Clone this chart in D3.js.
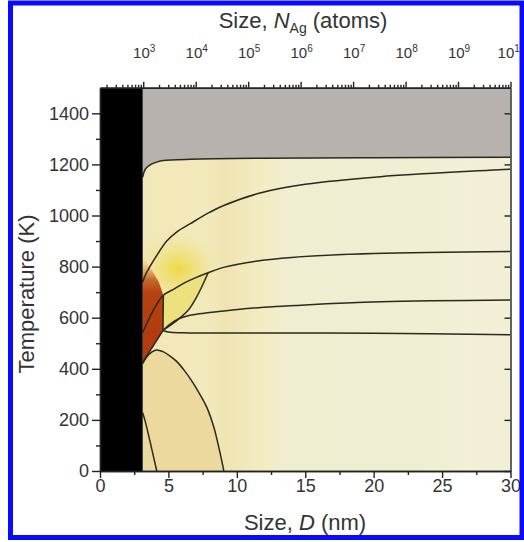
<!DOCTYPE html>
<html>
<head>
	<meta charset="UTF-8" />
	<title>Ag nanoparticle size - temperature diagram</title>
	<script src="https://d3js.org/d3.v7.min.js"></script>
	<style>
		body { margin: 0; background: #fff; }
		svg text { font-family: Arial, "Liberation Sans", sans-serif; fill: #333; }
	</style>
</head>
<body>
	<svg id="chart" width="524" height="542"></svg>

	<script type="text/javascript">
	// ---- data: D in nm, T in K ----
	const solidEdge = 3.12   // black band, D below this

	const xTicks = [0, 5, 10, 15, 20, 25, 30]
	const xMinor = [2.5, 7.5, 12.5, 17.5, 22.5, 27.5]
	const yTicks = [0, 200, 400, 600, 800, 1000, 1200, 1400]
	const yMinor = [100, 300, 500, 700, 900, 1100, 1300]
	const nExp = [3, 4, 5, 6, 7, 8, 9, 10]   // top axis, 10^n atoms

	// boundary curves
	const liquidus = [[3.12,1150],[3.3,1180],[3.66,1198],[4.2,1210],[4.63,1215],[6.6,1220],[11.7,1224],[20,1226],[30,1228]]
	const c1180 = [[3.12,740],[3.3,765],[3.54,790],[4.2,848],[4.88,900],[5.6,935],[6.6,968],[8,1012],[9,1038],[11.7,1088],[15,1122],[20.5,1152],[30,1181]]
	const c860 = [[3.12,542],[3.6,598],[4.1,648],[4.63,688],[5.4,712],[6.2,737],[7.0,757],[7.9,776],[9.1,798],[11.5,822],[14,836],[20,851],[30,859]]
	const c670 = [[4.6,550],[5.2,578],[5.8,597],[6.5,609],[8,620],[9.2,627],[11,637],[15,650],[20.5,662],[30,669]]
	const c540 = [[4.6,550],[5,544],[6,541],[10,540],[20,539],[30,533]]
	const yellowEdge = [[4.6,550],[5.5,584],[6.46,630],[7.0,675],[7.44,721],[7.9,776]]
	const redLower = [[3.12,425],[4.6,550]]
	const redRight = [[4.6,550],[4.63,688]]
	const dome = [[3.12,420],[3.4,445],[3.8,466],[4.15,474],[4.6,467],[5.1,451],[5.6,429],[6.2,391],[6.8,345],[7.3,300],[7.8,250],[8.3,175],[8.6,112],[8.85,52],[9.05,0]]
	const lowCurve = [[3.12,228],[3.3,195],[3.55,140],[3.8,82],[4.0,35],[4.15,0]]
	const redTopFade = [[4.63,688],[4.3,740],[3.8,785],[3.12,840]]
	const glowCenter = [5.7, 790]

	// heat colours of the background, by D
	const bgStops = [[3.12,"#f2e7b6"],[8,"#f2e9bc"],[9.2,"#efe3b0"],[10.5,"#f1e8bc"],[12,"#f3ecc3"],[13.8,"#f0eed1"],[25,"#f0eed3"],[26.5,"#f3f0d8"],[30,"#f3efd5"]]
	const redStops = [[540,"#b23c10",1],[700,"#b5420f",1],[750,"#c66426",0.95],[800,"#dea65a",0.55],[840,"#efd98a",0]]

	const gray = "#b7b2ad"
	const tan = "#ebd99d"
	const yellow = "#ece17e"
	const ink = "#2a291f"

	// ---- scales ----
	const svg = d3.select("#chart")
	const x = d3.scaleLinear().domain([0, 30]).range([100, 510.5])
	const y = d3.scaleLinear().domain([0, 1500]).range([471, 87.75])
	const xTop = d3.scaleLog().domain([150, 1e10]).range([100, 510.5])

	const defs = svg.append("defs")
	defs.append("clipPath").attr("id", "plotClip")
		.append("rect").attr("x", x(0)).attr("y", y(1500))
		.attr("width", x(30) - x(0)).attr("height", y(0) - y(1500))

	const bg = defs.append("linearGradient").attr("id", "bgGrad")
		.attr("gradientUnits", "userSpaceOnUse")
		.attr("x1", x(solidEdge)).attr("x2", x(30)).attr("y1", 0).attr("y2", 0)
	bg.selectAll("stop").data(bgStops).join("stop")
		.attr("offset", d => (d[0] - solidEdge) / (30 - solidEdge))
		.attr("stop-color", d => d[1])

	const rg = defs.append("linearGradient").attr("id", "redGrad")
		.attr("gradientUnits", "userSpaceOnUse")
		.attr("x1", 0).attr("x2", 0).attr("y1", y(540)).attr("y2", y(840))
	rg.selectAll("stop").data(redStops).join("stop")
		.attr("offset", d => (d[0] - 540) / (840 - 540))
		.attr("stop-color", d => d[1]).attr("stop-opacity", d => d[2])

	const glow = defs.append("radialGradient").attr("id", "glowGrad")
	glow.append("stop").attr("offset", 0).attr("stop-color", "#ecd834").attr("stop-opacity", 0.9)
	glow.append("stop").attr("offset", 0.45).attr("stop-color", "#eede66").attr("stop-opacity", 0.55)
	glow.append("stop").attr("offset", 1).attr("stop-color", "#f2e9a8").attr("stop-opacity", 0)

	const plot = svg.append("g").attr("clip-path", "url(#plotClip)")
	const poly = d3.line().x(d => x(d[0])).y(d => y(d[1]))
	const smooth = d3.line().x(d => x(d[0])).y(d => y(d[1])).curve(d3.curveCatmullRom)

	// background heat map
	plot.append("rect").attr("x", x(solidEdge)).attr("y", y(1500))
		.attr("width", x(30) - x(solidEdge)).attr("height", y(0) - y(1500))
		.attr("fill", "url(#bgGrad)")

	// tan low temperature dome
	plot.append("path").attr("d", smooth(dome) + "L" + x(solidEdge) + "," + y(0) + "Z").attr("fill", tan)

	// glow around the pocket
	plot.append("ellipse").attr("cx", x(glowCenter[0])).attr("cy", y(glowCenter[1]))
		.attr("rx", 46).attr("ry", 40).attr("fill", "url(#glowGrad)")

	// yellow pocket
	const c860part = c860.filter(d => d[0] >= 4.63 && d[0] <= 7.9)
	const yellowPoly = [yellowEdge[0], ...c860part, ...yellowEdge.slice().reverse()]
	plot.append("path").attr("d", smooth(yellowPoly) + "Z").attr("fill", yellow)

	// red-brown region on the solid edge
	const redPoly = [redLower[0], redLower[1], ...redTopFade]
	plot.append("path").attr("d", poly(redPoly) + "Z").attr("fill", "url(#redGrad)")

	// gray liquid region
	plot.append("path").attr("d", smooth(liquidus) + "L" + x(30) + "," + y(1500) + "L" + x(solidEdge) + "," + y(1500) + "Z")
		.attr("fill", gray)

	// boundary lines
	const curves = [liquidus, c1180, c860, c670, c540, yellowEdge, dome, lowCurve]
	plot.selectAll("path.bound").data(curves).join("path").attr("class", "bound")
		.attr("d", smooth).attr("fill", "none")
		.attr("stroke", ink).attr("stroke-width", 1.5)
	plot.selectAll("path.seg").data([redLower, redRight]).join("path").attr("class", "seg")
		.attr("d", poly).attr("fill", "none")
		.attr("stroke", ink).attr("stroke-width", 1.5)

	// black band
	plot.append("rect").attr("x", x(0)).attr("y", y(1500))
		.attr("width", x(solidEdge) - x(0)).attr("height", y(0) - y(1500)).attr("fill", "#000")

	// ---- axes ----
	function styleAxis(g) {
		g.selectAll("path.domain").attr("stroke", "#222").attr("stroke-width", 1.4)
		g.selectAll(".tick line").attr("stroke", "#222").attr("stroke-width", 1.4)
		g.selectAll(".tick text").attr("font-size", 18).attr("fill", "#333")
			.attr("font-family", 'Arial, "Liberation Sans", sans-serif')
	}

	svg.append("g").attr("transform", `translate(0,${y(0)})`)
		.call(d3.axisBottom(x).tickValues(xTicks).tickSize(7).tickSizeOuter(0).tickPadding(1).tickFormat(d3.format("d")))
		.call(styleAxis)
	svg.append("g").attr("transform", `translate(0,${y(0)})`)
		.call(d3.axisBottom(x).tickValues(xMinor).tickSize(4).tickSizeOuter(0).tickFormat(""))
		.call(styleAxis)

	svg.append("g").attr("transform", `translate(${x(0)},0)`)
		.call(d3.axisLeft(y).tickValues(yTicks).tickSize(8).tickSizeOuter(0).tickPadding(3).tickFormat(d3.format("d")))
		.call(styleAxis)
	svg.append("g").attr("transform", `translate(${x(0)},0)`)
		.call(d3.axisLeft(y).tickValues(yMinor).tickSize(4).tickSizeOuter(0).tickFormat(""))
		.call(styleAxis)

	// right side, ticks pointing in
	svg.append("g").attr("transform", `translate(${x(30)},0)`)
		.call(d3.axisLeft(y).tickValues(yTicks).tickSize(6).tickSizeOuter(0).tickFormat(""))
		.call(styleAxis)

	// top: number of atoms, log
	const nMinor = []
	for (let e = 2; e < 10; e++) for (let m = 2; m <= 9; m++) {
		const v = m * Math.pow(10, e)
		if (v >= 150 && v <= 1e10) nMinor.push(v)
	}
	const nTicks = nExp.map(e => Math.pow(10, e))
	svg.append("g").attr("transform", `translate(0,${y(1500)})`)
		.call(d3.axisTop(xTop).tickValues(nTicks).tickSize(6).tickSizeOuter(0).tickFormat(""))
		.call(styleAxis)
	svg.append("g").attr("transform", `translate(0,${y(1500)})`)
		.call(d3.axisTop(xTop).tickValues(nMinor).tickSize(3).tickSizeOuter(0).tickFormat(""))
		.call(styleAxis)

	const topLab = svg.append("g").selectAll("text").data(nExp).join("text")
		.attr("x", d => xTop(Math.pow(10, d)) + 1)
		.attr("y", 58).attr("text-anchor", "middle")
	topLab.append("tspan").attr("font-size", 15).text("10")
	topLab.append("tspan").attr("font-size", 10).attr("dy", -6).text(d => d)

	// titles
	const bt = svg.append("text").attr("x", 305).attr("y", 530)
		.attr("text-anchor", "middle").attr("font-size", 22)
	bt.append("tspan").text("Size, ")
	bt.append("tspan").attr("font-style", "italic").text("D")
	bt.append("tspan").text(" (nm)")

	svg.append("text").attr("transform", "translate(34,294) rotate(-90)")
		.attr("text-anchor", "middle").attr("font-size", 22).text("Temperature (K)")

	const tt = svg.append("text").attr("x", 303).attr("y", 28)
		.attr("text-anchor", "middle").attr("font-size", 22)
	tt.append("tspan").text("Size, ")
	tt.append("tspan").attr("font-style", "italic").text("N")
	tt.append("tspan").attr("font-size", 14).attr("dy", 5).text("Ag")
	tt.append("tspan").attr("dy", -5).text(" (atoms)")

	// blue frame round the figure
	svg.append("rect").attr("x", 10.5).attr("y", 3).attr("width", 511.5).attr("height", 534.5)
		.attr("fill", "none").attr("stroke", "#0a0aff").attr("stroke-width", 5)
	</script>
</body>
</html>
